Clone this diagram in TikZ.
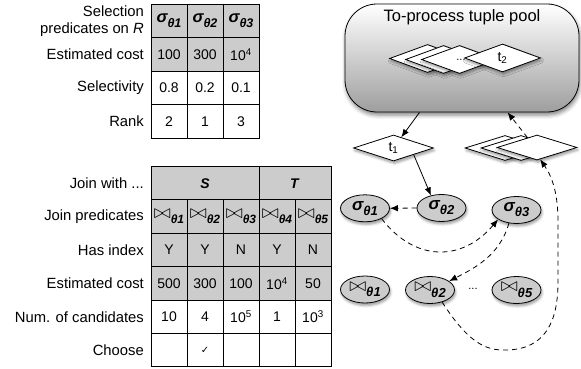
\documentclass[tikz,border=0pt]{standalone}
\usepackage{fontspec}
\setmainfont{Liberation Sans}
\newfontfamily\dejavu{DejaVu Sans}
\usetikzlibrary{shapes.geometric,arrows.meta,shadows.blur}
\newcommand{\sgmx}[3]{{\fontsize{#1}{#1}\selectfont\bfseries\itshape σ\raisebox{-0.3em}{\fontsize{#2}{#2}\selectfont θ#3}}}
\newcommand{\jnx}[3]{{\fontsize{#1}{#1}\selectfont\scalebox{1.45}[1.35]{$\bowtie$}\raisebox{-0.4em}{\fontsize{#2}{#2}\selectfont\bfseries\itshape θ#3}}}
\begin{document}
\begin{tikzpicture}[x=1pt,y=-1pt,
  cell/.style={draw, line width=1pt, minimum width=36pt, minimum height=33.4pt, inner sep=0pt, font=\fontsize{14}{16}\selectfont},
  gcell/.style={cell, fill=black!20},
  lbl/.style={anchor=east, inner sep=0pt, align=right, font=\fontsize{14.8}{17}\selectfont},
  diam/.style={diamond, draw, fill=white, line width=0.8pt, minimum width=78pt, minimum height=27pt, inner sep=0pt, aspect=3, font=\fontsize{14}{16}\selectfont,
     blur shadow={shadow xshift=1pt, shadow yshift=-2.5pt, shadow blur radius=2.5pt, shadow opacity=40}},
  ell/.style={ellipse, draw, fill=black!20, line width=0.8pt, minimum width=49pt, minimum height=27pt, inner sep=0pt,
     blur shadow={shadow xshift=1pt, shadow yshift=-2.5pt, shadow blur radius=2.5pt, shadow opacity=40}},
  arr/.style={-{Latex[length=8pt,width=6.5pt]}, line width=0.8pt},
  darr/.style={arr, dash pattern=on 5pt off 4pt},
  dots/.style={inner sep=0pt, font=\fontsize{11}{12}\selectfont}
]
\useasboundingbox (0,0) rectangle (581,369);

% ---- top table ----
\node[gcell] (a11) at (169,21.05) {\sgmx{16.5}{12.5}{1}};
\node[gcell] (a12) at (205,21.05) {\sgmx{16.5}{12.5}{2}};
\node[gcell] (a13) at (241,21.05) {\sgmx{16.5}{12.5}{3}};
\node[gcell] (a21) at (169,54.55) {100};
\node[gcell] (a22) at (205,54.55) {300};
\node[gcell] (a23) at (241,54.55) {10\textsuperscript{4}};
\node[cell] (a31) at (169,88.05) {0.8};
\node[cell] (a32) at (205,88.05) {0.2};
\node[cell] (a33) at (241,88.05) {0.1};
\node[cell] (a41) at (169,121.55) {2};
\node[cell] (a42) at (205,121.55) {1};
\node[cell] (a43) at (241,121.55) {3};
\node[lbl] (la1) at (144,21.05) {Selection\\predicates on \textit{R}};
\node[lbl] (la2) at (144,54.55) {Estimated cost};
\node[lbl] (la3) at (144,88.05) {Selectivity};
\node[lbl] (la4) at (144,121.55) {Rank};

% ---- bottom table ----
\node[gcell, minimum width=108pt] (bS) at (205,183.2) {\textbf{\textit{S}}};
\node[gcell, minimum width=72pt] (bT) at (295,183.2) {\textbf{\textit{T}}};
\node[gcell] (b21) at (169,216.6) {\jnx{14}{12}{1}};
\node[gcell] (b22) at (205,216.6) {\jnx{14}{12}{2}};
\node[gcell] (b23) at (241,216.6) {\jnx{14}{12}{3}};
\node[gcell] (b24) at (277,216.6) {\jnx{14}{12}{4}};
\node[gcell] (b25) at (313,216.6) {\jnx{14}{12}{5}};
\node[gcell] (b31) at (169,250) {Y};
\node[gcell] (b32) at (205,250) {Y};
\node[gcell] (b33) at (241,250) {N};
\node[gcell] (b34) at (277,250) {Y};
\node[gcell] (b35) at (313,250) {N};
\node[gcell] (b41) at (169,283.4) {500};
\node[gcell] (b42) at (205,283.4) {300};
\node[gcell] (b43) at (241,283.4) {100};
\node[gcell] (b44) at (277,283.4) {10\textsuperscript{4}};
\node[gcell] (b45) at (313,283.4) {50};
\node[cell] (b51) at (169,316.8) {10};
\node[cell] (b52) at (205,316.8) {4};
\node[cell] (b53) at (241,316.8) {10\textsuperscript{5}};
\node[cell] (b54) at (277,316.8) {1};
\node[cell] (b55) at (313,316.8) {10\textsuperscript{3}};
\node[cell] (b61) at (169,350.2) {};
\node[cell] (b62) at (205,350.2) {{\dejavu\fontsize{10}{10}\selectfont ✓}};
\node[cell] (b63) at (241,350.2) {};
\node[cell] (b64) at (277,350.2) {};
\node[cell] (b65) at (313,350.2) {};
\node[lbl] (lb1) at (144,183.2) {Join with ...};
\node[lbl] (lb2) at (144,216.6) {Join predicates};
\node[lbl] (lb3) at (144,250) {Has index};
\node[lbl] (lb4) at (144,283.4) {Estimated cost};
\node[lbl] (lb5) at (144,316.8) {Num. of candidates};
\node[lbl] (lb6) at (144,350.2) {Choose};

% ---- tuple pool ----
\node[draw, line width=0.8pt, rounded corners=32pt, minimum width=234pt, minimum height=108pt,
      top color=white, bottom color=black!38,
      blur shadow={shadow xshift=1pt, shadow yshift=-3pt, shadow blur radius=4pt, shadow opacity=50}] (pool) at (462,58) {};
\node[inner sep=0pt, font=\fontsize{16.5}{18}\selectfont] (ptitle) at (462,17) {To-process tuple pool};
\node[diam, minimum width=76pt, minimum height=28pt] (p1) at (427.5,58.5) {};
\node[diam, minimum width=76pt, minimum height=28pt] (p2) at (443.5,59.5) {};
\node[diam, minimum width=76pt, minimum height=28pt] (p3) at (459.5,59.5) {};
\node[dots] (pdots) at (461,60) {...};
\node[diam, minimum width=76pt, minimum height=28pt] (p4) at (502.5,58) {t\textsubscript{2}};

% ---- t1 and output stack ----
\node[diam, minimum width=80pt, minimum height=26pt] (t1) at (393.5,148) {t\textsubscript{1}};
\node[diam, minimum width=80pt, minimum height=25pt] (r1) at (505,148) {};
\node[diam, minimum width=80pt, minimum height=25pt] (r2) at (521,148) {};
\node[diam, minimum width=80pt, minimum height=25pt] (r3) at (537,147.5) {};

% ---- operators ----
\node[ell] (s1) at (365,208.3) {\sgmx{17}{13}{1}};
\node[ell] (s2) at (441.5,208) {\sgmx{17}{13}{2}};
\node[ell] (s3) at (516.5,210) {\sgmx{17}{13}{3}};
\node[ell] (j1) at (365,289.5) {\jnx{14.5}{13}{1}};
\node[ell] (j2) at (430,290) {\jnx{14.5}{13}{2}};
\node[dots] (jdots) at (473,289) {...};
\node[ell] (j5) at (516.5,290) {\jnx{14.5}{13}{5}};

% ---- connectors ----
\draw[arr] (pool.232) -- (t1.54);
\draw[arr] (t1.south east) -- (s2.130);
\draw[darr] (s2.west) -- (s1.east);
\draw[darr] (s1.-32) .. controls (415,262) and (462,262) .. (s3.207);
\draw[darr] (s3.240) .. controls (500,255) and (475,268) .. (j2.25);
\draw[darr] (j2.-45) .. controls (468,342) and (485,351) .. (507,350)
   .. controls (545,349) and (558,322) .. (558,282) -- (558,222)
   .. controls (558,195) and (553,178) .. (r3.-75);
\draw[darr] (r3.134) -- (pool.310);
\end{tikzpicture}
\end{document}
